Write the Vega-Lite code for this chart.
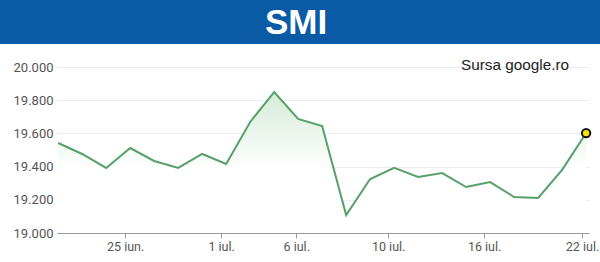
{
  "$schema": "https://vega.github.io/schema/vega-lite/v6.json",
  "padding": 0,
  "background": "white",
  "spacing": 13,
  "config": {"view": {"stroke": null}, "font": "Roboto"},
  "vconcat": [
    {
      "width": 600,
      "height": 44,
      "view": {"fill": "#0b5aa5", "stroke": null},
      "data": {"values": [{"t": "SMI"}]},
      "mark": {"type": "text", "font": "Liberation Sans", "fontSize": 35, "fontWeight": "bold", "color": "white", "baseline": "middle", "align": "center", "dx": -4, "dy": 1},
      "encoding": {"text": {"field": "t"}}
    },
    {
      "width": 600,
      "height": 166,
      "title": {"text": "Sursa google.ro", "anchor": "end", "frame": "group", "orient": "top", "offset": 0, "dy": 24, "dx": -31, "baseline": "alphabetic", "fontSize": 15.3, "fontWeight": "normal", "color": "#222222", "font": "Liberation Sans"},
      "data": {"values": [
        {"i": 0, "v": 19542}, {"i": 1, "v": 19476}, {"i": 2, "v": 19392}, {"i": 3, "v": 19512},
        {"i": 4, "v": 19434}, {"i": 5, "v": 19392}, {"i": 6, "v": 19476}, {"i": 7, "v": 19416},
        {"i": 8, "v": 19669}, {"i": 9, "v": 19849}, {"i": 10, "v": 19687}, {"i": 11, "v": 19645},
        {"i": 12, "v": 19108}, {"i": 13, "v": 19325}, {"i": 14, "v": 19392}, {"i": 15, "v": 19337},
        {"i": 16, "v": 19361}, {"i": 17, "v": 19277}, {"i": 18, "v": 19307}, {"i": 19, "v": 19217},
        {"i": 20, "v": 19211}, {"i": 21, "v": 19380}, {"i": 22, "v": 19602}
      ]},
      "encoding": {
        "x": {"field": "i", "type": "quantitative", "scale": {"domain": [-0.05, 22.12], "range": [57, 589], "nice": false, "zero": false},
          "axis": {"title": null, "grid": false, "values": [2.79, 6.79, 9.92, 13.75, 17.75, 21.83],
            "labelExpr": "datum.value < 4 ? '25 iun.' : datum.value < 8 ? '1 iul.' : datum.value < 11 ? '6 iul.' : datum.value < 15 ? '10 iul.' : datum.value < 19 ? '16 iul.' : '22 iul.'",
            "domainColor": "#999999", "tickColor": "#999999", "tickSize": 5, "labelPadding": 2,
            "labelFontSize": 12.5, "labelColor": "#555555", "labelFont": "Roboto"}},
        "y": {"field": "v", "type": "quantitative", "scale": {"domain": [19000, 20000], "nice": false, "zero": false},
          "axis": {"title": null, "values": [19000, 19200, 19400, 19600, 19800, 20000],
            "labelExpr": "replace(format(datum.value, ',d'), ',', '.')",
            "domain": false, "ticks": false, "labelPadding": 4, "offset": -57,
            "gridColor": "#ececec", "labelFontSize": 13, "labelColor": "#555555", "labelFont": "Roboto"}}
      },
      "layer": [
        {
          "mark": {"type": "area", "color": {"gradient": "linear", "x1": 0, "y1": 0, "x2": 0, "y2": 1,
            "stops": [{"offset": 0, "color": "#d6ebd9"}, {"offset": 0.55, "color": "#ffffff"}, {"offset": 1, "color": "#ffffff"}]}},
          "encoding": {"y2": {"datum": 19000}}
        },
        {
          "mark": {"type": "line", "color": "#57a06a", "strokeWidth": 2}
        },
        {
          "transform": [{"filter": "datum.i == 22"}],
          "mark": {"type": "point", "filled": true, "fill": "#f7e600", "stroke": "#111111", "strokeWidth": 2, "size": 70, "opacity": 1}
        }
      ]
    }
  ]
}
